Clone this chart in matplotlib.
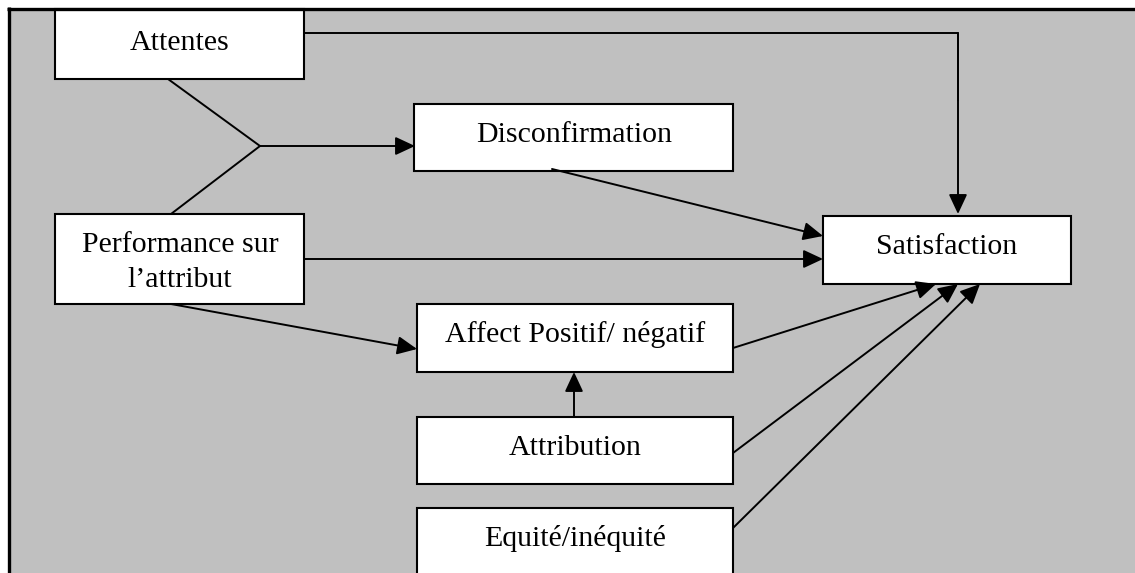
import matplotlib.pyplot as plt
from matplotlib.patches import Rectangle

# node labels of the diagram
node_names = ["attentes", "disconf", "performance", "satisfaction",
              "affect", "attribution", "equite"]
node_labels = ["Attentes", "Disconfirmation", "Performance sur\nl\u2019attribut",
               "Satisfaction", "Affect Positif/ n\u00e9gatif", "Attribution",
               "Equit\u00e9/in\u00e9quit\u00e9"]

# links (source -> target) shown as arrows
edges = [
    ("attentes", "satisfaction"),
    ("attentes+performance", "disconf"),
    ("disconf", "satisfaction"),
    ("performance", "satisfaction"),
    ("performance", "affect"),
    ("attribution", "affect"),
    ("affect", "satisfaction"),
    ("attribution", "satisfaction"),
    ("equite", "satisfaction"),
]

# layout in pixel coordinates (x0, y0, x1, y1), text centre x and first baseline
BOXES = {
    "attentes": (55, 9, 304, 79),
    "disconf": (414, 104, 733, 171),
    "performance": (55, 214, 304, 304),
    "satisfaction": (823, 216, 1071, 284),
    "affect": (417, 304, 733, 372),
    "attribution": (417, 417, 733, 484),
    "equite": (417, 508, 733, 600),
}
TEXT_POS = {
    "attentes": (180, 50),
    "disconf": (574, 142),
    "performance": (180, 252),
    "satisfaction": (947, 254),
    "affect": (575, 342),
    "attribution": (575, 455),
    "equite": (575, 546),
}
LINE_STEP = 35

ARROWS = {
    ("attentes", "satisfaction"): ((958, 33), (958, 214)),
    ("attentes+performance", "disconf"): ((260, 146), (415, 146)),
    ("disconf", "satisfaction"): ((552, 169), (823, 236)),
    ("performance", "satisfaction"): ((304, 259), (823, 259)),
    ("performance", "affect"): ((171, 304), (417, 349)),
    ("attribution", "affect"): ((574, 417), (574, 372)),
    ("affect", "satisfaction"): ((733, 348), (936, 284)),
    ("attribution", "satisfaction"): ((733, 453), (958, 284)),
    ("equite", "satisfaction"): ((733, 528), (980, 284)),
}

GRAY = "#c0c0c0"
LINE_W = 1.4

fig = plt.figure(figsize=(11.35, 5.73), dpi=100)
ax = fig.add_axes([0, 0, 1, 1])
ax.set_xlim(0, 1135)
ax.set_ylim(573, 0)
ax.axis("off")

# grey panel with its thick frame
ax.add_patch(Rectangle((9, 9), 1135, 600, facecolor=GRAY, edgecolor="none", zorder=0))
ax.plot([7, 1135], [8.5, 8.5], color="black", lw=2.4, solid_capstyle="butt", zorder=5)
ax.plot([8.5, 8.5], [7, 573], color="black", lw=2.4, solid_capstyle="butt", zorder=5)

for name, label in zip(node_names, node_labels):
    x0, y0, x1, y1 = BOXES[name]
    ax.add_patch(Rectangle((x0, y0), x1 - x0, y1 - y0, facecolor="white",
                           edgecolor="black", lw=1.5, zorder=2))
    tx, ty = TEXT_POS[name]
    for i, line in enumerate(label.split("\n")):
        ax.text(tx, ty + i * LINE_STEP, line, ha="center", va="baseline",
                fontsize=21.5, family="Liberation Serif", zorder=3)

# the two converging lines of attentes and performance
ax.plot([168, 260, 171], [79, 146, 214], color="black", lw=LINE_W, zorder=1)
# elbow from attentes towards satisfaction
ax.plot([304, 958, 958], [33, 33, 100], color="black", lw=LINE_W, zorder=1)

for edge in edges:
    start, end = ARROWS[edge]
    ax.annotate(
        "",
        xy=end,
        xytext=start,
        arrowprops=dict(
            arrowstyle="-|>,head_length=0.6,head_width=0.28",
            mutation_scale=20,
            color="black",
            lw=LINE_W,
            shrinkA=0,
            shrinkB=0,
        ),
        zorder=4,
    )

fig.savefig("out.png", dpi=100, facecolor="white")
